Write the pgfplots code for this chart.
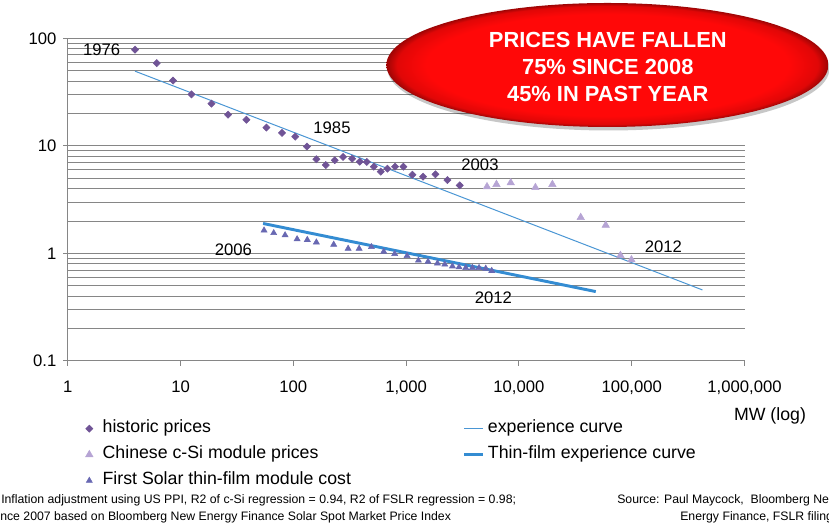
\documentclass[border=0pt]{standalone}
\usepackage{pgfplots}
\pgfplotsset{compat=1.18}
\usepackage{fontspec}
\setmainfont{Liberation Sans}
\definecolor{histcol}{RGB}{112,84,150}
\definecolor{chinacol}{RGB}{182,164,212}
\definecolor{fscol}{RGB}{104,104,178}
\definecolor{expcol}{RGB}{74,150,212}
\definecolor{tfcol}{RGB}{52,140,210}
\definecolor{gridgray}{RGB}{134,134,134}
\definecolor{elred}{RGB}{255,8,8}
\pgfdeclareradialshading{redell}{\pgfpoint{0bp}{0bp}}{color(0bp)=(elred); color(20.5bp)=(elred); color(23.8bp)=(elred!88!black); color(25bp)=(elred!62!black); color(50bp)=(elred!62!black)}
\pgfplotsset{
  shortline/.style={legend image code/.code={\draw[##1] (0pt,0pt) -- (14.25pt,0pt);}},
  markimg/.style={legend image code/.code={\draw[##1] plot coordinates {(0pt,0pt)}; \path[draw=none, fill=none] (-3pt,0pt) -- (7.75pt,0pt);}},
}
\begin{document}
\begin{tikzpicture}[x=0.75pt,y=0.75pt]
\useasboundingbox (0,0) rectangle (829,523);
\clip (0,0) rectangle (829,523);
\begin{axis}[
  at={(50.8pt,121.5pt)}, anchor=south west,
  scale only axis, width=507.6pt, height=242pt,
  xmode=log, ymode=log,
  xmin=1, xmax=1000000, ymin=0.1, ymax=100,
  axis lines*=left,
  axis line style={draw=gridgray, line width=0.75pt, -},
  xtick={1,10,100,1000,10000,100000,1000000},
  xticklabels={1,10,100,{1,000},{10,000},{100,000},{1,000,000}},
  ytick={0.1,1,10,100},
  yticklabels={0.1,1,10,100},
  ymajorgrids, yminorgrids,
  major grid style={draw=gridgray, line width=0.75pt},
  minor grid style={draw=gridgray, line width=0.75pt},
  minor tick length=0pt,
  major tick length=3.5pt,
  tick align=outside,
  tick style={draw=gridgray, line width=0.75pt},
  tick label style={font=\fontsize{12.5}{15}\selectfont},
  xticklabel style={yshift=-8pt},
  yticklabel style={xshift=-1.5pt},
  legend columns=2,
  legend cell align=left,
  legend style={at={(0.0256,-0.183)}, anchor=north west, draw=none, fill=none,
    inner sep=0pt, font=\fontsize{13.3}{15}\selectfont, row sep=7pt,
    nodes={inner sep=0pt, text height=9.5pt, text depth=3pt},
    /tikz/every odd column/.append style={column sep=2.25pt},
    /tikz/every even column/.append style={column sep=84pt}},
]
\addplot[only marks, mark=square*, mark size=1.9pt, color=histcol, mark options={rotate=45, fill=histcol, draw=histcol}, markimg] coordinates {
(3.95,78.4) (6.15,58.8) (8.58,40.5) (12.5,30.1) (18.8,24.7) (26.4,19.5) (38.4,17.5)
(57.7,14.8) (79.4,13.2) (104,12.2) (132,9.86) (160,7.51) (194,6.64) (233,7.35)
(276,7.89) (332,7.6) (388,7.13) (448,7.09) (517,6.41) (596,5.76) (683,6.14)
(798,6.41) (946,6.41) (1137,5.39) (1413,5.17) (1820,5.44) (2323,4.81) (2985,4.29)};
\addlegendentry{historic prices}
\addplot[expcol, line width=0.75pt, shortline] coordinates {(3.95,49.5) (423000,0.458)};
\addlegendentry{experience curve}
\addplot[only marks, mark=triangle*, mark size=3.2pt, color=chinacol, mark options={fill=chinacol, draw=chinacol}, markimg] coordinates {
(5212,4.17) (6320,4.38) (8458,4.54) (14000,4.10) (19800,4.38) (35300,2.16)
(58800,1.83) (79400,0.958) (99400,0.873)};
\addlegendentry{Chinese c-Si module prices}
\addplot[tfcol, line width=2.2pt, shortline] coordinates {(53.9,1.90) (48000,0.442)};
\addlegendentry{Thin-film experience curve}
\addplot[only marks, mark=triangle*, mark size=2.6pt, color=fscol, mark options={fill=fscol, draw=fscol}, markimg] coordinates {
(55.0,1.64) (67.0,1.55) (84.5,1.48) (108,1.36) (133,1.34) (160,1.27) (228,1.21)
(306,1.11) (383,1.11) (492,1.15) (633,1.04) (792,0.99) (1019,0.95) (1285,0.86)
(1564,0.84) (1895,0.81) (2200,0.79) (2573,0.76) (2944,0.745) (3376,0.735)
(3870,0.735) (4430,0.735) (5080,0.724) (5740,0.69)};
\addlegendentry{First Solar thin-film module cost}
\end{axis}
% year labels
\begin{scope}[font=\fontsize{12.5}{15}\selectfont]
\node at (101.7,473) {1976};
\node at (332,395.7) {1985};
\node at (480,358) {2003};
\node at (233.3,273) {2006};
\node at (663.3,276.3) {2012};
\node at (493.3,225.7) {2012};
\end{scope}
\node[font=\fontsize{13.3}{15}\selectfont] at (770,107) {MW (log)};
% footnotes
\begin{scope}[font=\fontsize{9.2}{10}\selectfont, inner sep=0pt]
\node[anchor=west] at (1,23) {Inflation adjustment using US PPI, R2 of c-Si regression = 0.94, R2 of FSLR regression = 0.98;};
\node[anchor=west] at (0,6) {nce 2007 based on Bloomberg New Energy Finance Solar Spot Market Price Index};
\node[anchor=west] at (617,23) {Source: Paul Maycock,\ \ Bloomberg New};
\node[anchor=west] at (680,6) {Energy Finance, FSLR filings};
\end{scope}
% red ellipse
\fill[black, opacity=0.22] (608.5,454.5) ellipse [x radius=221, y radius=62];
\shade[shading=redell] (607.4,458) ellipse [x radius=221, y radius=62];
\node[align=center, text=white, font=\fontsize{16.4}{20.3}\selectfont\bfseries] at (607.8,456) {PRICES HAVE FALLEN\\75\% SINCE 2008\\45\% IN PAST YEAR};
\end{tikzpicture}
\end{document}
